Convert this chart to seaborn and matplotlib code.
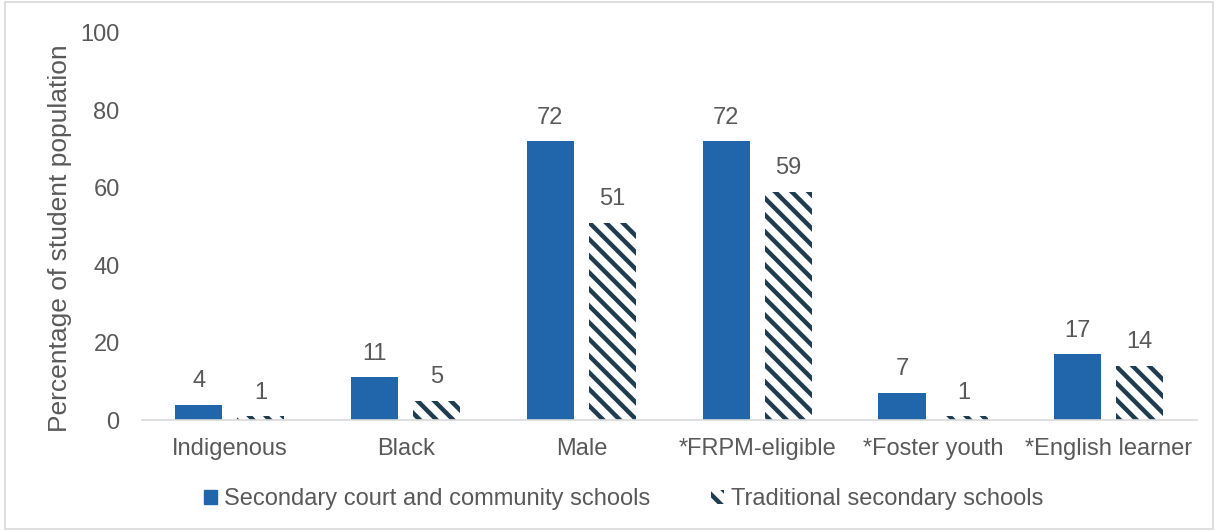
import matplotlib
matplotlib.use("Agg")
import matplotlib.pyplot as plt
from matplotlib.patches import Patch, Rectangle
import seaborn as sns
import pandas as pd

categories = ["Indigenous", "Black", "Male", "*FRPM-eligible", "*Foster youth", "*English learner"]
court_community = [4, 11, 72, 72, 7, 17]
traditional = [1, 5, 51, 59, 1, 14]
series_names = ["Secondary court and community schools", "Traditional secondary schools"]

BLUE = "#2166AB"
DARK = "#1F3D4E"
TEXT = "#595959"
FS = 17

sns.set_theme(style="white")
plt.rcParams["font.family"] = ["Liberation Sans", "DejaVu Sans"]
plt.rcParams["hatch.linewidth"] = 3.2
plt.rcParams["hatch.color"] = DARK

df = pd.DataFrame({
    "category": categories * 2,
    "value": court_community + traditional,
    "series": [series_names[0]] * len(categories) + [series_names[1]] * len(categories),
})

fig = plt.figure(figsize=(12.18, 5.31), dpi=100)
ax = fig.add_axes([0.1165, 0.209, 0.866, 0.729])

sns.barplot(data=df, x="category", y="value", hue="series", order=categories,
            hue_order=series_names, palette=[BLUE, "white"], width=0.705, gap=0.24,
            saturation=1, legend=False, ax=ax)

for container, name in zip(ax.containers, series_names):
    for bar in container:
        bar.set_linewidth(0)
        if name == series_names[1]:
            bar.set_facecolor("white")
            bar.set_hatch("\\\\")
            bar.set_edgecolor(DARK)
    ax.bar_label(container, fmt="%g", padding=9, fontsize=FS, color=TEXT)

ax.set_ylim(0, 100)
ax.set_yticks(range(0, 101, 20))
ax.set_xlim(-0.5, len(categories) - 0.5)
ax.set_xlabel("")
ax.set_ylabel("Percentage of student population", fontsize=19, color=TEXT, labelpad=6)
ax.yaxis.label.set_y(0.47)
ax.tick_params(axis="both", length=0, labelsize=FS, labelcolor=TEXT)
ax.tick_params(axis="y", pad=16)
ax.tick_params(axis="x", pad=13)
for side in ["top", "right", "left"]:
    ax.spines[side].set_visible(False)
ax.spines["bottom"].set_color("#D9D9D9")
ax.spines["bottom"].set_linewidth(1.2)

handles = [
    Patch(facecolor=BLUE, edgecolor=BLUE, label=series_names[0]),
    Patch(facecolor="white", edgecolor=DARK, hatch="\\\\", linewidth=0, label=series_names[1]),
]
fig.legend(handles=handles, loc="center", bbox_to_anchor=(0.512, 0.06), ncol=2,
           frameon=False, fontsize=FS, labelcolor=TEXT, handlelength=0.55,
           handleheight=0.55, handletextpad=0.3, columnspacing=2.6)

fig.add_artist(Rectangle((0.004, 0.004), 0.992, 0.992, transform=fig.transFigure,
                         fill=False, edgecolor="#D9D9D9", linewidth=1.2))

fig.savefig("out.png", dpi=100, facecolor="white")
